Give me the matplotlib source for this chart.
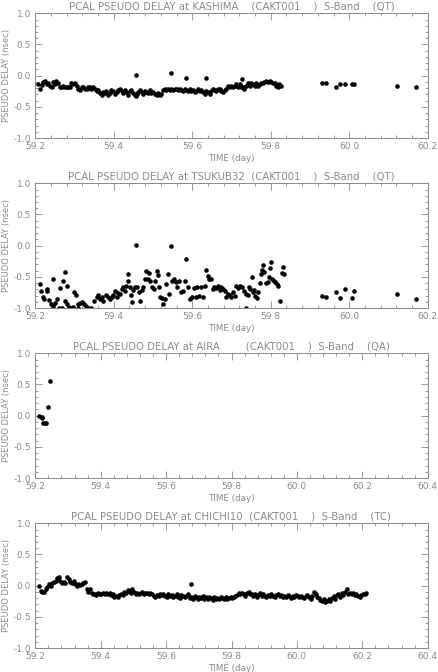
import matplotlib
matplotlib.use("Agg")
import matplotlib.pyplot as plt
from matplotlib.ticker import MultipleLocator, FormatStrFormatter

# ---------------- data ----------------
titles = [
    "PCAL PSEUDO DELAY at KASHIMA    (CAKT001    )  S-Band    (QT)",
    "PCAL PSEUDO DELAY at TSUKUB32  (CAKT001    )  S-Band    (QT)",
    "PCAL PSEUDO DELAY at AIRA        (CAKT001    )  S-Band    (QA)",
    "PCAL PSEUDO DELAY at CHICHI10  (CAKT001    )  S-Band    (TC)",
]
xlims = [(59.2, 60.2), (59.2, 60.2), (59.2, 60.4), (59.2, 60.4)]

kashima_t = [59.208, 59.212, 59.216, 59.220, 59.225, 59.229, 59.233, 59.237, 59.242, 59.246,
             59.250, 59.254, 59.259, 59.263, 59.267, 59.271, 59.275, 59.280, 59.284, 59.288,
             59.292, 59.297, 59.301, 59.305, 59.309, 59.314, 59.318, 59.322, 59.326, 59.331,
             59.335, 59.339, 59.343, 59.348, 59.352, 59.356, 59.360, 59.365, 59.369, 59.373,
             59.377, 59.381, 59.386, 59.390, 59.394, 59.398, 59.403, 59.407, 59.411, 59.415,
             59.420, 59.424, 59.428, 59.432, 59.437, 59.441, 59.445, 59.449, 59.454, 59.458,
             59.462, 59.466, 59.471, 59.475, 59.479, 59.483, 59.487, 59.492, 59.496, 59.500,
             59.504, 59.509, 59.513, 59.517, 59.521, 59.526, 59.530, 59.534, 59.538, 59.543,
             59.547, 59.551, 59.555, 59.560, 59.564, 59.568, 59.572, 59.577, 59.581, 59.585,
             59.589, 59.593, 59.598, 59.602, 59.606, 59.610, 59.615, 59.619, 59.623, 59.627,
             59.632, 59.636, 59.640, 59.644, 59.649, 59.653, 59.657, 59.661, 59.666, 59.670,
             59.674, 59.678, 59.683, 59.687, 59.691, 59.695, 59.699, 59.704, 59.708, 59.712,
             59.716, 59.721, 59.725, 59.729, 59.733, 59.738, 59.742, 59.746, 59.750, 59.755,
             59.759, 59.763, 59.767, 59.772, 59.776, 59.780, 59.784, 59.789, 59.793, 59.797,
             59.801, 59.805, 59.810, 59.814, 59.818, 59.822, 59.827,
             59.456, 59.545, 59.585, 59.636, 59.728, 59.456,
             59.931, 59.941, 59.967, 59.977, 59.988, 60.007, 60.011, 60.122, 60.171]
kashima_d = [-0.14, -0.21, -0.15, -0.10, -0.08, -0.14, -0.11, -0.16, -0.18, -0.10,
             -0.14, -0.08, -0.11, -0.18, -0.19, -0.16, -0.18, -0.19, -0.18, -0.19,
             -0.11, -0.14, -0.12, -0.17, -0.21, -0.23, -0.19, -0.18, -0.22, -0.21,
             -0.18, -0.19, -0.22, -0.19, -0.22, -0.25, -0.23, -0.28, -0.31, -0.27,
             -0.28, -0.25, -0.31, -0.28, -0.23, -0.25, -0.29, -0.27, -0.23, -0.21,
             -0.25, -0.28, -0.23, -0.27, -0.31, -0.25, -0.23, -0.28, -0.31, -0.29,
             -0.27, -0.23, -0.27, -0.29, -0.25, -0.27, -0.28, -0.23, -0.28, -0.27,
             -0.29, -0.31, -0.28, -0.31, -0.29, -0.23, -0.21, -0.23, -0.21, -0.23,
             -0.22, -0.23, -0.21, -0.22, -0.23, -0.21, -0.23, -0.25, -0.22, -0.23,
             -0.25, -0.22, -0.25, -0.23, -0.27, -0.25, -0.22, -0.25, -0.23, -0.27,
             -0.29, -0.25, -0.27, -0.29, -0.25, -0.22, -0.23, -0.25, -0.22, -0.21,
             -0.25, -0.27, -0.23, -0.21, -0.16, -0.18, -0.16, -0.19, -0.17, -0.14,
             -0.18, -0.14, -0.19, -0.18, -0.21, -0.16, -0.12, -0.17, -0.11, -0.14,
             -0.16, -0.12, -0.17, -0.14, -0.11, -0.12, -0.10, -0.08, -0.10, -0.08,
             -0.10, -0.12, -0.11, -0.16, -0.18, -0.14, -0.16,
             0.01, 0.045, -0.04, -0.03, -0.055, -0.33,
             -0.12, -0.12, -0.18, -0.13, -0.13, -0.13, -0.13, -0.17, -0.18]

tsukub_t = [59.212, 59.214, 59.219, 59.223, 59.229, 59.231, 59.236, 59.239, 59.244, 59.246,
            59.250, 59.256, 59.261, 59.263, 59.268, 59.270, 59.275, 59.276, 59.280, 59.282,
            59.285, 59.290, 59.295, 59.298, 59.303, 59.308, 59.310, 59.314, 59.320, 59.324,
            59.329, 59.335, 59.341, 59.349, 59.356, 59.360, 59.365, 59.369, 59.373, 59.380,
            59.386, 59.390, 59.395, 59.398, 59.403, 59.407, 59.412, 59.417, 59.420, 59.424,
            59.429, 59.432, 59.436, 59.437, 59.441, 59.445, 59.447, 59.449, 59.454, 59.456,
            59.459, 59.465, 59.466, 59.471, 59.475, 59.480, 59.483, 59.487, 59.489, 59.493,
            59.498, 59.502, 59.505, 59.509, 59.512, 59.515, 59.519, 59.522, 59.526, 59.531,
            59.534, 59.538, 59.541, 59.545, 59.549, 59.553, 59.558, 59.561, 59.566, 59.571,
            59.577, 59.582, 59.585, 59.590, 59.593, 59.599, 59.604, 59.609, 59.612, 59.617,
            59.622, 59.627, 59.632, 59.636, 59.639, 59.643, 59.648, 59.653, 59.656, 59.661,
            59.665, 59.670, 59.673, 59.678, 59.683, 59.687, 59.692, 59.695, 59.700, 59.704,
            59.709, 59.712, 59.717, 59.721, 59.726, 59.731, 59.736, 59.738, 59.741, 59.744,
            59.748, 59.751, 59.755, 59.758, 59.761, 59.765, 59.768, 59.772, 59.775, 59.778,
            59.780, 59.784, 59.789, 59.792, 59.795, 59.799, 59.800, 59.804, 59.809, 59.812,
            59.816, 59.819, 59.824, 59.829, 59.831, 59.833,
            59.931, 59.941, 59.967, 59.977, 59.988, 60.007, 60.011, 60.122, 60.171]
tsukub_d = [-0.62, -0.73, -0.82, -0.86, -0.72, -0.70, -0.87, -0.94, -0.97, -0.53,
            -0.92, -0.86, -1.00, -0.68, -1.00, -0.57, -0.43, -0.88, -0.64, -0.93,
            -0.99, -1.00, -0.99, -0.75, -0.79, -1.00, -0.94, -0.92, -0.90, -0.94,
            -0.97, -1.00, -1.00, -0.89, -0.83, -0.79, -0.86, -0.82, -0.89, -0.79,
            -0.83, -0.85, -0.82, -0.79, -0.73, -0.82, -0.76, -0.77, -0.69, -0.66,
            -0.72, -0.64, -0.57, -0.46, -0.67, -0.79, -0.90, -0.71, -0.67, 0.01,
            -0.67, -0.75, -0.88, -0.71, -0.66, -0.53, -0.40, -0.54, -0.44, -0.57,
            -0.67, -0.69, -0.56, -0.40, -0.47, -0.66, -0.82, -0.84, -0.93, -0.86,
            -0.61, -0.46, -0.77, 0.00, -0.56, -0.53, -0.58, -0.67, -0.57, -0.75,
            -0.72, -0.57, -0.21, -0.67, -0.86, -0.82, -0.68, -0.82, -0.67, -0.81,
            -0.66, -0.82, -0.64, -0.39, -0.49, -0.53, -0.54, -0.69, -0.66, -0.68,
            -0.64, -0.71, -0.66, -0.69, -0.73, -0.82, -0.77, -0.79, -0.82, -0.75,
            -0.81, -0.64, -0.68, -0.64, -0.67, -0.72, -0.77, -1.00, -0.79, -0.66,
            -0.69, -0.51, -0.75, -0.71, -0.81, -0.84, -0.75, -0.60, -0.46, -0.39,
            -0.31, -0.42, -0.60, -0.58, -0.50, -0.36, -0.27, -0.53, -0.56, -0.58,
            -0.61, -0.64, -0.88, -0.44, -0.34, -0.46,
            -0.81, -0.83, -0.75, -0.84, -0.69, -0.84, -0.72, -0.77, -0.86]

aira_t = [59.212, 59.219, 59.222, 59.225, 59.230, 59.233, 59.238, 59.245]
aira_d = [0.00, -0.02, -0.04, -0.11, -0.11, -0.12, 0.14, 0.55]

chichi_t = [59.212, 59.217, 59.222, 59.227, 59.232, 59.237, 59.242, 59.247, 59.252, 59.257,
            59.262, 59.267, 59.272, 59.277, 59.282, 59.287, 59.292, 59.297, 59.302, 59.307,
            59.312, 59.317, 59.322, 59.327, 59.332, 59.337, 59.342, 59.347, 59.352, 59.357,
            59.362, 59.367, 59.372, 59.377, 59.382, 59.387, 59.392, 59.397, 59.402, 59.407,
            59.412, 59.417, 59.422, 59.427, 59.432, 59.437, 59.442, 59.447, 59.452, 59.457,
            59.462, 59.467, 59.472, 59.477, 59.482, 59.487, 59.492, 59.497, 59.502, 59.507,
            59.512, 59.517, 59.522, 59.527, 59.532, 59.537, 59.542, 59.547, 59.552, 59.557,
            59.562, 59.567, 59.572, 59.577, 59.582, 59.587, 59.592, 59.597, 59.602, 59.607,
            59.612, 59.617, 59.622, 59.627, 59.632, 59.637, 59.642, 59.647, 59.652, 59.657,
            59.662, 59.667, 59.672, 59.677, 59.682, 59.687, 59.692, 59.697, 59.702, 59.707,
            59.712, 59.717, 59.722, 59.727, 59.732, 59.737, 59.742, 59.747, 59.752, 59.757,
            59.762, 59.767, 59.772, 59.777, 59.782, 59.787, 59.792, 59.797, 59.802, 59.807,
            59.812, 59.817, 59.822, 59.827, 59.832, 59.837, 59.842, 59.847, 59.852, 59.857,
            59.862, 59.867, 59.872, 59.877, 59.882, 59.887, 59.892, 59.897, 59.902, 59.907,
            59.912, 59.917, 59.922, 59.927, 59.932, 59.937, 59.942, 59.947, 59.952, 59.957,
            59.962, 59.967, 59.972, 59.977, 59.982, 59.987, 59.992, 59.997, 60.002, 60.007,
            60.012, 60.017, 60.022, 60.027, 60.032, 60.037, 60.042, 60.047, 60.052, 60.057,
            60.062, 60.067, 60.072, 60.077, 60.082, 60.087, 60.092, 60.097, 60.102, 60.107,
            60.112, 60.117, 60.122, 60.127, 60.132, 60.137, 60.142, 60.147, 60.152, 60.157,
            60.162, 60.167, 60.172, 60.177, 60.182, 60.187, 60.192, 60.197, 60.202, 60.207,
            60.212, 59.675]
chichi_d = [0.00, -0.08, -0.10, -0.10, -0.05, -0.02, 0.02, 0.00, 0.04, 0.06,
            0.08, 0.12, 0.14, 0.07, 0.05, 0.06, 0.04, 0.14, 0.10, 0.06,
            0.04, 0.08, 0.02, 0.00, 0.03, 0.01, 0.02, 0.05, 0.06, -0.05,
            -0.10, -0.06, -0.12, -0.14, -0.13, -0.15, -0.12, -0.14, -0.13, -0.11,
            -0.13, -0.12, -0.14, -0.12, -0.15, -0.13, -0.18, -0.16, -0.19, -0.15,
            -0.13, -0.15, -0.10, -0.12, -0.07, -0.09, -0.12, -0.06, -0.10, -0.13,
            -0.11, -0.14, -0.12, -0.10, -0.13, -0.12, -0.11, -0.14, -0.12, -0.13,
            -0.16, -0.19, -0.15, -0.17, -0.14, -0.15, -0.13, -0.16, -0.18, -0.14,
            -0.17, -0.15, -0.19, -0.16, -0.14, -0.18, -0.20, -0.15, -0.17, -0.19,
            -0.16, -0.13, -0.20, -0.18, -0.21, -0.16, -0.19, -0.22, -0.18, -0.20,
            -0.17, -0.21, -0.19, -0.22, -0.18, -0.20, -0.23, -0.19, -0.21, -0.20,
            -0.22, -0.18, -0.20, -0.21, -0.19, -0.22, -0.20, -0.18, -0.20, -0.19,
            -0.17, -0.15, -0.12, -0.14, -0.11, -0.13, -0.16, -0.12, -0.10, -0.14,
            -0.13, -0.16, -0.14, -0.18, -0.15, -0.12, -0.17, -0.14, -0.16, -0.18,
            -0.15, -0.17, -0.14, -0.16, -0.18, -0.15, -0.13, -0.17, -0.15, -0.19,
            -0.16, -0.18, -0.15, -0.17, -0.20, -0.16, -0.18, -0.15, -0.17, -0.19,
            -0.16, -0.18, -0.20, -0.17, -0.15, -0.19, -0.21, -0.16, -0.10, -0.14,
            -0.18, -0.20, -0.23, -0.25, -0.22, -0.26, -0.24, -0.21, -0.25, -0.20,
            -0.17, -0.22, -0.15, -0.13, -0.18, -0.12, -0.15, -0.10, -0.06, -0.13,
            -0.11, -0.14, -0.12, -0.15, -0.13, -0.16, -0.18, -0.15, -0.14, -0.13,
            -0.12, 0.02]

series_t = [kashima_t, tsukub_t, aira_t, chichi_t]
series_d = [kashima_d, tsukub_d, aira_d, chichi_d]

ytick_vals = [-1.0, -0.5, 0.0, 0.5, 1.0]

# ---------------- figure ----------------
GRAY = "#8a8a8a"
W, H = 439, 672
fig = plt.figure(figsize=(W / 100, H / 100), dpi=100)
fig.patch.set_facecolor("white")

tops_px = [13.3, 183.3, 353.3, 523.3]
left_px, right_px, h_px = 35.3, 427.7, 124.7

for i in range(4):
    ax = fig.add_axes([left_px / W, 1 - (tops_px[i] + h_px) / H,
                       (right_px - left_px) / W, h_px / H])
    ax.plot(series_t[i], series_d[i], "o", color="black", markersize=3.3,
            markeredgewidth=0, clip_on=True)
    ax.set_xlim(*xlims[i])
    ax.set_ylim(-1.0, 1.0)
    ax.set_yticks(ytick_vals)
    ax.xaxis.set_major_locator(MultipleLocator(0.2))
    ax.xaxis.set_minor_locator(MultipleLocator(0.04))
    ax.yaxis.set_minor_locator(MultipleLocator(0.1))
    ax.xaxis.set_major_formatter(FormatStrFormatter("%.1f"))
    ax.yaxis.set_major_formatter(FormatStrFormatter("%.1f"))
    ax.tick_params(which="both", direction="in", top=True, right=True,
                   color=GRAY, labelcolor=GRAY, labelsize=6.5, width=0.6, pad=3)
    ax.tick_params(which="major", length=5)
    ax.tick_params(which="minor", length=2.5)
    for s in ax.spines.values():
        s.set_color(GRAY)
        s.set_linewidth(0.7)
    ax.set_title(titles[i], fontsize=7.3, color=GRAY, pad=2.5)
    ax.set_xlabel("TIME (day)", fontsize=6.3, color=GRAY, labelpad=2)
    ax.set_ylabel("PSEUDO DELAY (nsec)", fontsize=6.0, color=GRAY, labelpad=2)

fig.savefig("out.png", dpi=100, facecolor="white")
